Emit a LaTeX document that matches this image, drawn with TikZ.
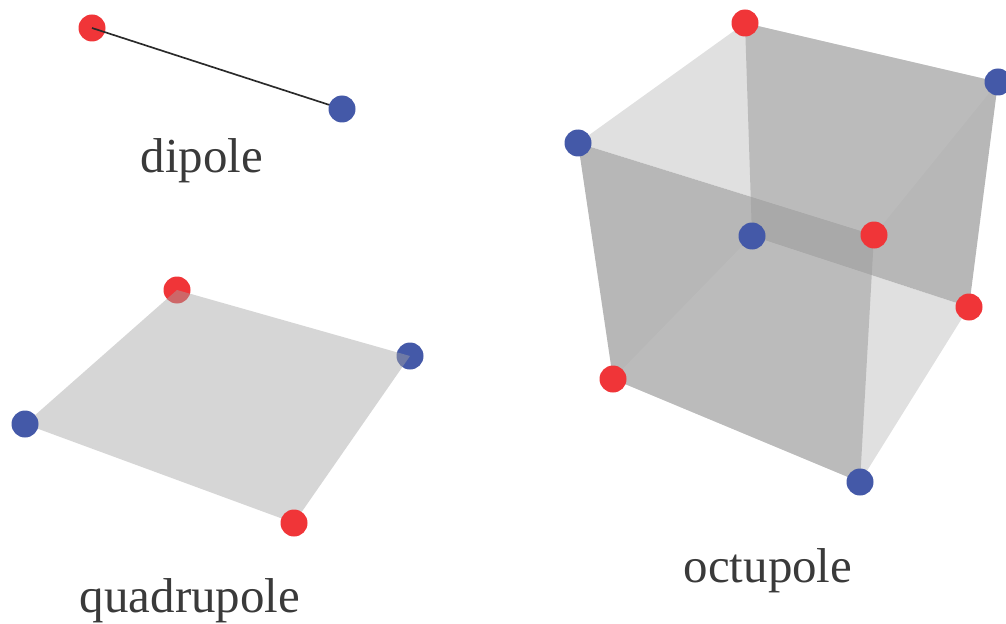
\documentclass[tikz,border=0pt]{standalone}
\usepackage{fontspec}
\setmainfont{Liberation Serif}
\definecolor{polered}{HTML}{F03538}
\definecolor{poleblue}{HTML}{4459A8}
\definecolor{labelgray}{HTML}{3A3A3A}
\definecolor{linegray}{HTML}{2A2A2A}
\definecolor{facedark}{HTML}{A5A5A5}
\definecolor{facelight}{HTML}{C1C1C1}
\definecolor{sheetgray}{HTML}{A4A4A4}
\usetikzlibrary{positioning}

\begin{document}
\begin{tikzpicture}[
    x=0.75pt, y=-0.75pt,
    redpole/.style={circle, fill=polered, minimum size=20.25pt, inner sep=0pt},
    bluepole/.style={circle, fill=poleblue, minimum size=20.25pt, inner sep=0pt},
    caption/.style={anchor=base, text=labelgray, font=\fontsize{36.7}{40}\selectfont},
    darkface/.style={fill=facedark, fill opacity=0.8},
    lightface/.style={fill=facelight, fill opacity=0.5},
    sheet/.style={fill=sheetgray, fill opacity=0.45}
  ]
    \useasboundingbox (0,0) rectangle (1006,624);

    % dipole
    \node[redpole] (dipoleR) at (92,28) {};
    \draw[line width=1.25pt, linegray] (dipoleR.center) -- (342,109) coordinate (dipoleEnd);
    \node[bluepole] (dipoleB) at (dipoleEnd) {};
    \node[caption] (dipoleText) at (202,172) {dipole};

    % quadrupole
    \node[redpole] (quadA) at (177,290) {};
    \node[bluepole] (quadB) at (410,356) {};
    \coordinate (quadC) at (294,523);
    \coordinate (quadD) at (25,424);
    \fill[sheet] (quadA.center) -- (quadB.center) -- (quadC) -- (quadD) -- cycle;
    \node[redpole] (quadCpole) at (quadC) {};
    \node[bluepole] (quadDpole) at (quadD) {};
    \node[caption] (quadText) at (190,612) {quadrupole};

    % octupole
    \coordinate (octA) at (745,23);
    \coordinate (octB) at (998,82);
    \coordinate (octC) at (578,143);
    \coordinate (octD) at (752,236);
    \coordinate (octE) at (874,235);
    \coordinate (octF) at (969,307);
    \coordinate (octG) at (613,379);
    \coordinate (octH) at (860,482);

    \fill[darkface] (octA) -- (octB) -- (octF) -- (octD) -- cycle;
    \fill[darkface] (octC) -- (octE) -- (octH) -- (octG) -- cycle;
    \fill[lightface] (octA) -- (octB) -- (octE) -- (octC) -- cycle;
    \fill[lightface] (octD) -- (octF) -- (octH) -- (octG) -- cycle;

    \node[redpole] (octApole) at (octA) {};
    \node[bluepole] (octBpole) at (octB) {};
    \node[bluepole] (octCpole) at (octC) {};
    \node[bluepole] (octDpole) at (octD) {};
    \node[redpole] (octEpole) at (octE) {};
    \node[redpole] (octFpole) at (octF) {};
    \node[redpole] (octGpole) at (octG) {};
    \node[bluepole] (octHpole) at (octH) {};
    \node[caption] (octText) at (768,582) {octupole};
  \end{tikzpicture}
\end{document}
